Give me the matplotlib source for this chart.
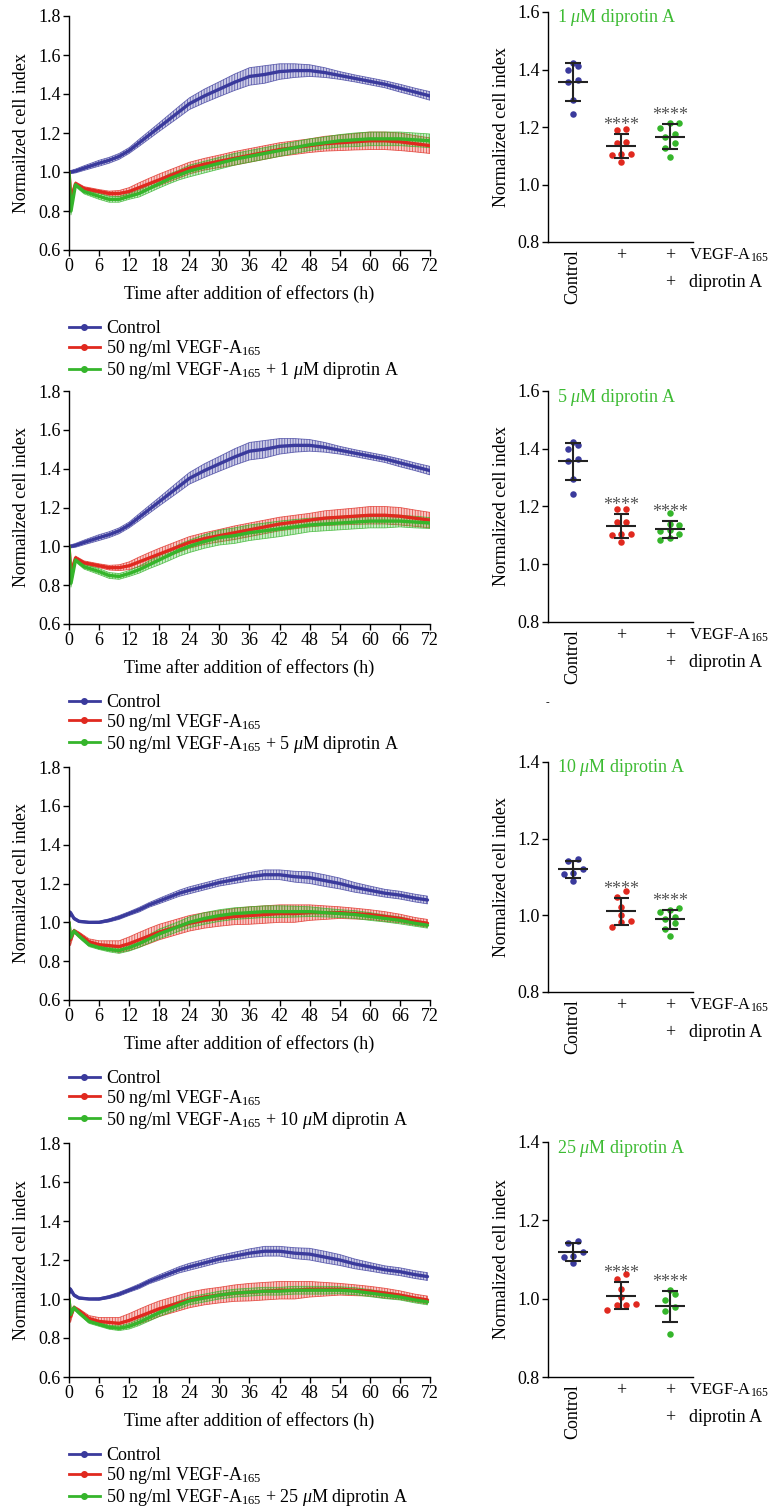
import matplotlib
matplotlib.use("Agg")
import matplotlib.pyplot as plt
import numpy as np
from matplotlib.lines import Line2D

FS = 13
plt.rcParams.update({
    "font.family": ["Liberation Serif", "DejaVu Serif"],
    "mathtext.fontset": "custom",
    "mathtext.rm": "Liberation Serif",
    "mathtext.it": "Liberation Serif:italic",
    "font.size": FS,
    "axes.linewidth": 1.0,
    "hatch.linewidth": 0.6,
})

BLUE = "#3a3a9c"
RED = "#e0291f"
GREEN = "#35b52b"
TITLE_GREEN = "#3dbb33"
STAR_GREY = "#555555"

# ---- time course data (mean, SD) ----
T1 = [0, 0.4, 1.3, 3, 6, 8, 10, 12, 14, 16, 18, 20, 22, 24, 27, 30,
      33, 36, 39, 42, 45, 48, 51, 54, 57, 60, 63, 66, 69, 72]
ctrl_a = [1.0, 1.0, 1.005, 1.02, 1.045, 1.06, 1.08, 1.11, 1.15, 1.19, 1.23, 1.27, 1.31, 1.35, 1.39,
          1.425, 1.46, 1.49, 1.50, 1.515, 1.52, 1.52, 1.51, 1.495, 1.48, 1.465, 1.45, 1.43, 1.41, 1.39]
ctrl_a_sd = [0.005, 0.008, 0.01, 0.012, 0.015, 0.015, 0.015, 0.015, 0.018, 0.02, 0.022, 0.025, 0.028,
             0.03, 0.035, 0.038, 0.042, 0.045, 0.045, 0.04, 0.035, 0.03, 0.025, 0.02, 0.018, 0.018,
             0.018, 0.02, 0.02, 0.022]
vegf_a = [1.0, 0.86, 0.94, 0.915, 0.90, 0.89, 0.89, 0.90, 0.92, 0.94, 0.96, 0.98, 1.0, 1.02, 1.04,
          1.055, 1.07, 1.085, 1.10, 1.115, 1.125, 1.135, 1.145, 1.15, 1.155, 1.16, 1.16, 1.155, 1.145, 1.135]
vegf_a_sd = [0.005, 0.03, 0.01, 0.01, 0.01, 0.012, 0.015, 0.02, 0.025, 0.028, 0.03, 0.03, 0.03, 0.03,
             0.03, 0.032, 0.035, 0.035, 0.035, 0.035, 0.035, 0.035, 0.038, 0.04, 0.042, 0.045, 0.045,
             0.045, 0.042, 0.04]
dip1 = [1.0, 0.80, 0.935, 0.90, 0.875, 0.86, 0.86, 0.875, 0.89, 0.915, 0.94, 0.965, 0.985, 1.005, 1.025,
        1.045, 1.065, 1.08, 1.095, 1.11, 1.125, 1.14, 1.15, 1.16, 1.165, 1.17, 1.17, 1.17, 1.165, 1.16]
dip1_sd = [0.005, 0.02, 0.01, 0.012, 0.015, 0.015, 0.015, 0.015, 0.018, 0.02, 0.022, 0.025, 0.025, 0.03,
           0.03, 0.03, 0.03, 0.03, 0.03, 0.03, 0.03, 0.03, 0.03, 0.032, 0.035, 0.035, 0.035, 0.035,
           0.035, 0.035]
dip5 = [1.0, 0.81, 0.93, 0.895, 0.87, 0.85, 0.845, 0.86, 0.88, 0.905, 0.93, 0.955, 0.98, 1.0, 1.025,
        1.045, 1.055, 1.07, 1.08, 1.09, 1.10, 1.11, 1.115, 1.12, 1.125, 1.13, 1.13, 1.13, 1.125, 1.12]
dip5_sd = [0.005, 0.02, 0.01, 0.012, 0.015, 0.015, 0.015, 0.015, 0.018, 0.02, 0.025, 0.028, 0.03, 0.032,
           0.035, 0.038, 0.04, 0.04, 0.04, 0.04, 0.038, 0.035, 0.035, 0.035, 0.035, 0.035, 0.035, 0.03,
           0.03, 0.028]

T2 = [0, 0.3, 1, 2, 4, 6, 8, 10, 12, 14, 16, 18, 20, 22, 24, 27, 30, 33, 36, 39, 42, 45, 48, 51,
      54, 57, 60, 63, 66, 69, 71.5]
ctrl_b = [1.03, 1.05, 1.02, 1.005, 1.0, 1.0, 1.01, 1.025, 1.045, 1.065, 1.09, 1.11, 1.13, 1.15, 1.165,
          1.185, 1.205, 1.22, 1.235, 1.245, 1.245, 1.235, 1.23, 1.215, 1.2, 1.18, 1.165, 1.15, 1.14,
          1.125, 1.115]
ctrl_b_sd = [0.01, 0.01, 0.008, 0.006, 0.005, 0.006, 0.008, 0.01, 0.01, 0.012, 0.012, 0.014, 0.015,
             0.016, 0.018, 0.018, 0.018, 0.02, 0.022, 0.025, 0.025, 0.028, 0.03, 0.03, 0.028, 0.025,
             0.022, 0.02, 0.02, 0.02, 0.02]
vegf_b = [1.0, 0.91, 0.955, 0.94, 0.90, 0.885, 0.88, 0.875, 0.89, 0.91, 0.93, 0.95, 0.965, 0.98, 0.995,
          1.01, 1.02, 1.03, 1.035, 1.04, 1.045, 1.045, 1.05, 1.05, 1.05, 1.045, 1.04, 1.03, 1.02,
          1.005, 0.995]
vegf_b_sd = [0.005, 0.03, 0.01, 0.01, 0.015, 0.02, 0.025, 0.03, 0.035, 0.038, 0.04, 0.04, 0.04, 0.04,
             0.04, 0.04, 0.04, 0.042, 0.045, 0.045, 0.045, 0.045, 0.04, 0.035, 0.03, 0.028, 0.025,
             0.025, 0.022, 0.02, 0.02]
dip10 = [1.0, 0.92, 0.955, 0.93, 0.885, 0.87, 0.86, 0.855, 0.87, 0.89, 0.915, 0.94, 0.96, 0.98, 1.0,
         1.02, 1.035, 1.045, 1.05, 1.055, 1.055, 1.055, 1.055, 1.05, 1.045, 1.04, 1.03, 1.02, 1.01,
         0.995, 0.985]
dip10_sd = [0.005, 0.02, 0.01, 0.01, 0.01, 0.01, 0.012, 0.015, 0.018, 0.02, 0.022, 0.025, 0.025, 0.025,
            0.028, 0.03, 0.03, 0.03, 0.03, 0.03, 0.03, 0.028, 0.025, 0.022, 0.02, 0.02, 0.02, 0.018,
            0.018, 0.015, 0.015]
dip25 = [1.0, 0.92, 0.955, 0.93, 0.885, 0.87, 0.855, 0.85, 0.86, 0.88, 0.905, 0.93, 0.95, 0.97, 0.99,
         1.005, 1.02, 1.03, 1.035, 1.04, 1.04, 1.045, 1.045, 1.045, 1.045, 1.04, 1.03, 1.02, 1.01,
         0.995, 0.985]
dip25_sd = [0.005, 0.02, 0.01, 0.01, 0.01, 0.01, 0.01, 0.012, 0.014, 0.016, 0.018, 0.02,
            0.02, 0.02, 0.02, 0.02, 0.02, 0.02, 0.02, 0.02, 0.02, 0.02, 0.02, 0.02,
            0.018, 0.018, 0.018, 0.018, 0.015, 0.015, 0.015]

# ---- end-point data (individual wells) ----
pt_ctrl_a = [1.413, 1.423, 1.398, 1.356, 1.363, 1.294, 1.245]
pt_vegf_a = [1.19, 1.192, 1.147, 1.146, 1.105, 1.105, 1.103, 1.077]
pt_dip1 = [1.213, 1.215, 1.195, 1.166, 1.176, 1.143, 1.126, 1.095]
pt_dip5 = [1.176, 1.139, 1.137, 1.119, 1.116, 1.105, 1.084, 1.09]
pt_ctrl_b = [1.143, 1.148, 1.12, 1.11, 1.107, 1.09]
pt_vegf_b = [1.064, 1.049, 1.023, 1.001, 0.982, 0.984, 0.969]
pt_dip10 = [1.019, 1.013, 1.008, 0.995, 0.99, 0.981, 0.965, 0.947]
pt_vegf_b2 = [1.064, 1.049, 1.024, 1.004, 0.983, 0.986, 0.983, 0.97]
pt_dip25 = [1.021, 1.011, 0.997, 0.979, 0.968, 0.911]

doses = ["1", "5", "10", "25"]
W, H = 771, 1510


def px_axes(fig, left, top, right, bottom):
    return fig.add_axes([left / W, 1 - bottom / H, (right - left) / W, (bottom - top) / H])


def style(ax):
    for s in ("top", "right"):
        ax.spines[s].set_visible(False)
    ax.tick_params(direction="out", length=4, width=1, labelsize=FS, pad=2)


def band(ax, t, m, sd, color):
    m, sd = np.asarray(m), np.asarray(sd)
    ax.fill_between(t, m - sd, m + sd, facecolor=matplotlib.colors.to_rgba(color, 0.25),
                    edgecolor=matplotlib.colors.to_rgba(color, 0.75), hatch="||||||", lw=0.6)
    ax.plot(t, m, color=color, lw=2.4, solid_capstyle="round")


def swarm_x(ax, x0, vals, sep=9.5):
    # GraphPad-like rows: near-equal values share a row, spread symmetrically
    disp = ax.transData.transform(np.column_stack([np.full(len(vals), x0), vals]))
    order = np.argsort(disp[:, 1])
    rows = []
    for i in order:
        if rows and disp[i, 1] - disp[rows[-1][0], 1] < 6.5:
            rows[-1].append(i)
        else:
            rows.append([i])
    xs = disp[:, 0].copy()
    for row in rows:
        n = len(row)
        for j, i in enumerate(row):
            xs[i] = disp[i, 0] + (j - (n - 1) / 2) * sep
    return ax.transData.inverted().transform(np.column_stack([xs, disp[:, 1]]))[:, 0]


def time_panel(fig, top, bottom, t, series, dose):
    ax = px_axes(fig, 69, top, 430, bottom)
    style(ax)
    for (m, sd), c in zip(series, (BLUE, RED, GREEN)):
        band(ax, t, m, sd, c)
    ax.set_xlim(0, 72)
    ax.set_ylim(0.6, 1.8)
    ax.set_xticks(range(0, 73, 6))
    ax.set_yticks(np.arange(0.6, 1.81, 0.2))
    ax.yaxis.set_major_formatter(matplotlib.ticker.FormatStrFormatter("%.1f"))
    ax.set_xlabel("Time after addition of effectors (h)", labelpad=7)
    ax.set_ylabel("Normailzed cell index", labelpad=6)
    handles = [Line2D([], [], color=c, lw=2, marker="o", ms=4) for c in (BLUE, RED, GREEN)]
    labels = ["Control", "50 ng/ml VEGF-A$_{165}$",
              "50 ng/ml VEGF-A$_{165}$ + " + dose + r" $\mu$M diprotin A"]
    ax.legend(handles, labels, loc="upper left", bbox_to_anchor=(0, -0.30), frameon=False,
              borderpad=0, borderaxespad=0, handlelength=1.7, handletextpad=0.35,
              labelspacing=0.05)


def dot_panel(fig, top, bottom, groups, ylim, dose):
    ax = px_axes(fig, 548, top, 693, bottom)
    style(ax)
    ax.set_xlim(-0.52, 2.48)
    ax.set_ylim(*ylim)
    ax.set_yticks(np.arange(ylim[0], ylim[1] + 0.01, 0.2))
    ax.yaxis.set_major_formatter(matplotlib.ticker.FormatStrFormatter("%.1f"))
    ax.set_xticks([])
    ax.set_ylabel("Normalized cell index", labelpad=5)
    for i, (vals, c) in enumerate(zip(groups, (BLUE, RED, GREEN))):
        vals = np.asarray(vals)
        m, sd = vals.mean(), vals.std(ddof=1)
        ax.scatter(swarm_x(ax, i, vals), vals, s=22, color=c, zorder=3, lw=0)
        ax.hlines(m, i - 0.31, i + 0.31, color="#222222", lw=1.5, zorder=4)
        ax.hlines([m - sd, m + sd], i - 0.16, i + 0.16, color="#222222", lw=1.5, zorder=4)
        ax.vlines(i, m - sd, m + sd, color="#222222", lw=1.5, zorder=4)
        if i > 0:
            ax.annotate("****", (i, m + sd), xytext=(0, 0), textcoords="offset points",
                        ha="center", va="bottom", color=STAR_GREY, fontsize=FS)
    ax.text(0.06, 0.974, dose + r" $\mu$M diprotin A", transform=ax.transAxes, color=TITLE_GREEN,
            va="center", ha="left")
    xt = ax.get_xaxis_transform()
    ax.annotate("Control", (0, 0), xycoords=xt, xytext=(0, -5), textcoords="offset points",
                rotation=90, ha="center", va="top")
    for i in (1, 2):
        ax.annotate("+", (i, 0), xycoords=xt, xytext=(0, -9.5), textcoords="offset points",
                    ha="center", va="center")
    ax.annotate("+", (2, 0), xycoords=xt, xytext=(0, -29), textcoords="offset points",
                ha="center", va="center")
    ax.annotate("VEGF-A$_{165}$", (1, 0), xycoords="axes fraction", xytext=(-3, -9.5),
                textcoords="offset points", ha="left", va="center", fontsize=12)
    ax.annotate("diprotin A", (1, 0), xycoords="axes fraction", xytext=(-3, -29),
                textcoords="offset points", ha="left", va="center")


fig = plt.figure(figsize=(W / 100, H / 100), dpi=100)

time_rows = [(16, 250), (391, 624), (767, 1000), (1143, 1377)]
dot_rows = [(12, 242), (391, 622), (762, 992), (1142, 1377)]
time_series = [
    (T1, [(ctrl_a, ctrl_a_sd), (vegf_a, vegf_a_sd), (dip1, dip1_sd)]),
    (T1, [(ctrl_a, ctrl_a_sd), (vegf_a, vegf_a_sd), (dip5, dip5_sd)]),
    (T2, [(ctrl_b, ctrl_b_sd), (vegf_b, vegf_b_sd), (dip10, dip10_sd)]),
    (T2, [(ctrl_b, ctrl_b_sd), (vegf_b, vegf_b_sd), (dip25, dip25_sd)]),
]
dot_groups = [
    ([pt_ctrl_a, pt_vegf_a, pt_dip1], (0.8, 1.6)),
    ([pt_ctrl_a, pt_vegf_a, pt_dip5], (0.8, 1.6)),
    ([pt_ctrl_b, pt_vegf_b, pt_dip10], (0.8, 1.4)),
    ([pt_ctrl_b, pt_vegf_b2, pt_dip25], (0.8, 1.4)),
]

for k in range(4):
    t, ser = time_series[k]
    time_panel(fig, *time_rows[k], t, ser, doses[k])
    grp, yl = dot_groups[k]
    dot_panel(fig, *dot_rows[k], grp, yl, doses[k])

fig.text(547 / W, 1 - 703 / H, "-", fontsize=8, ha="center", va="center")

fig.savefig("out.png", dpi=100)
